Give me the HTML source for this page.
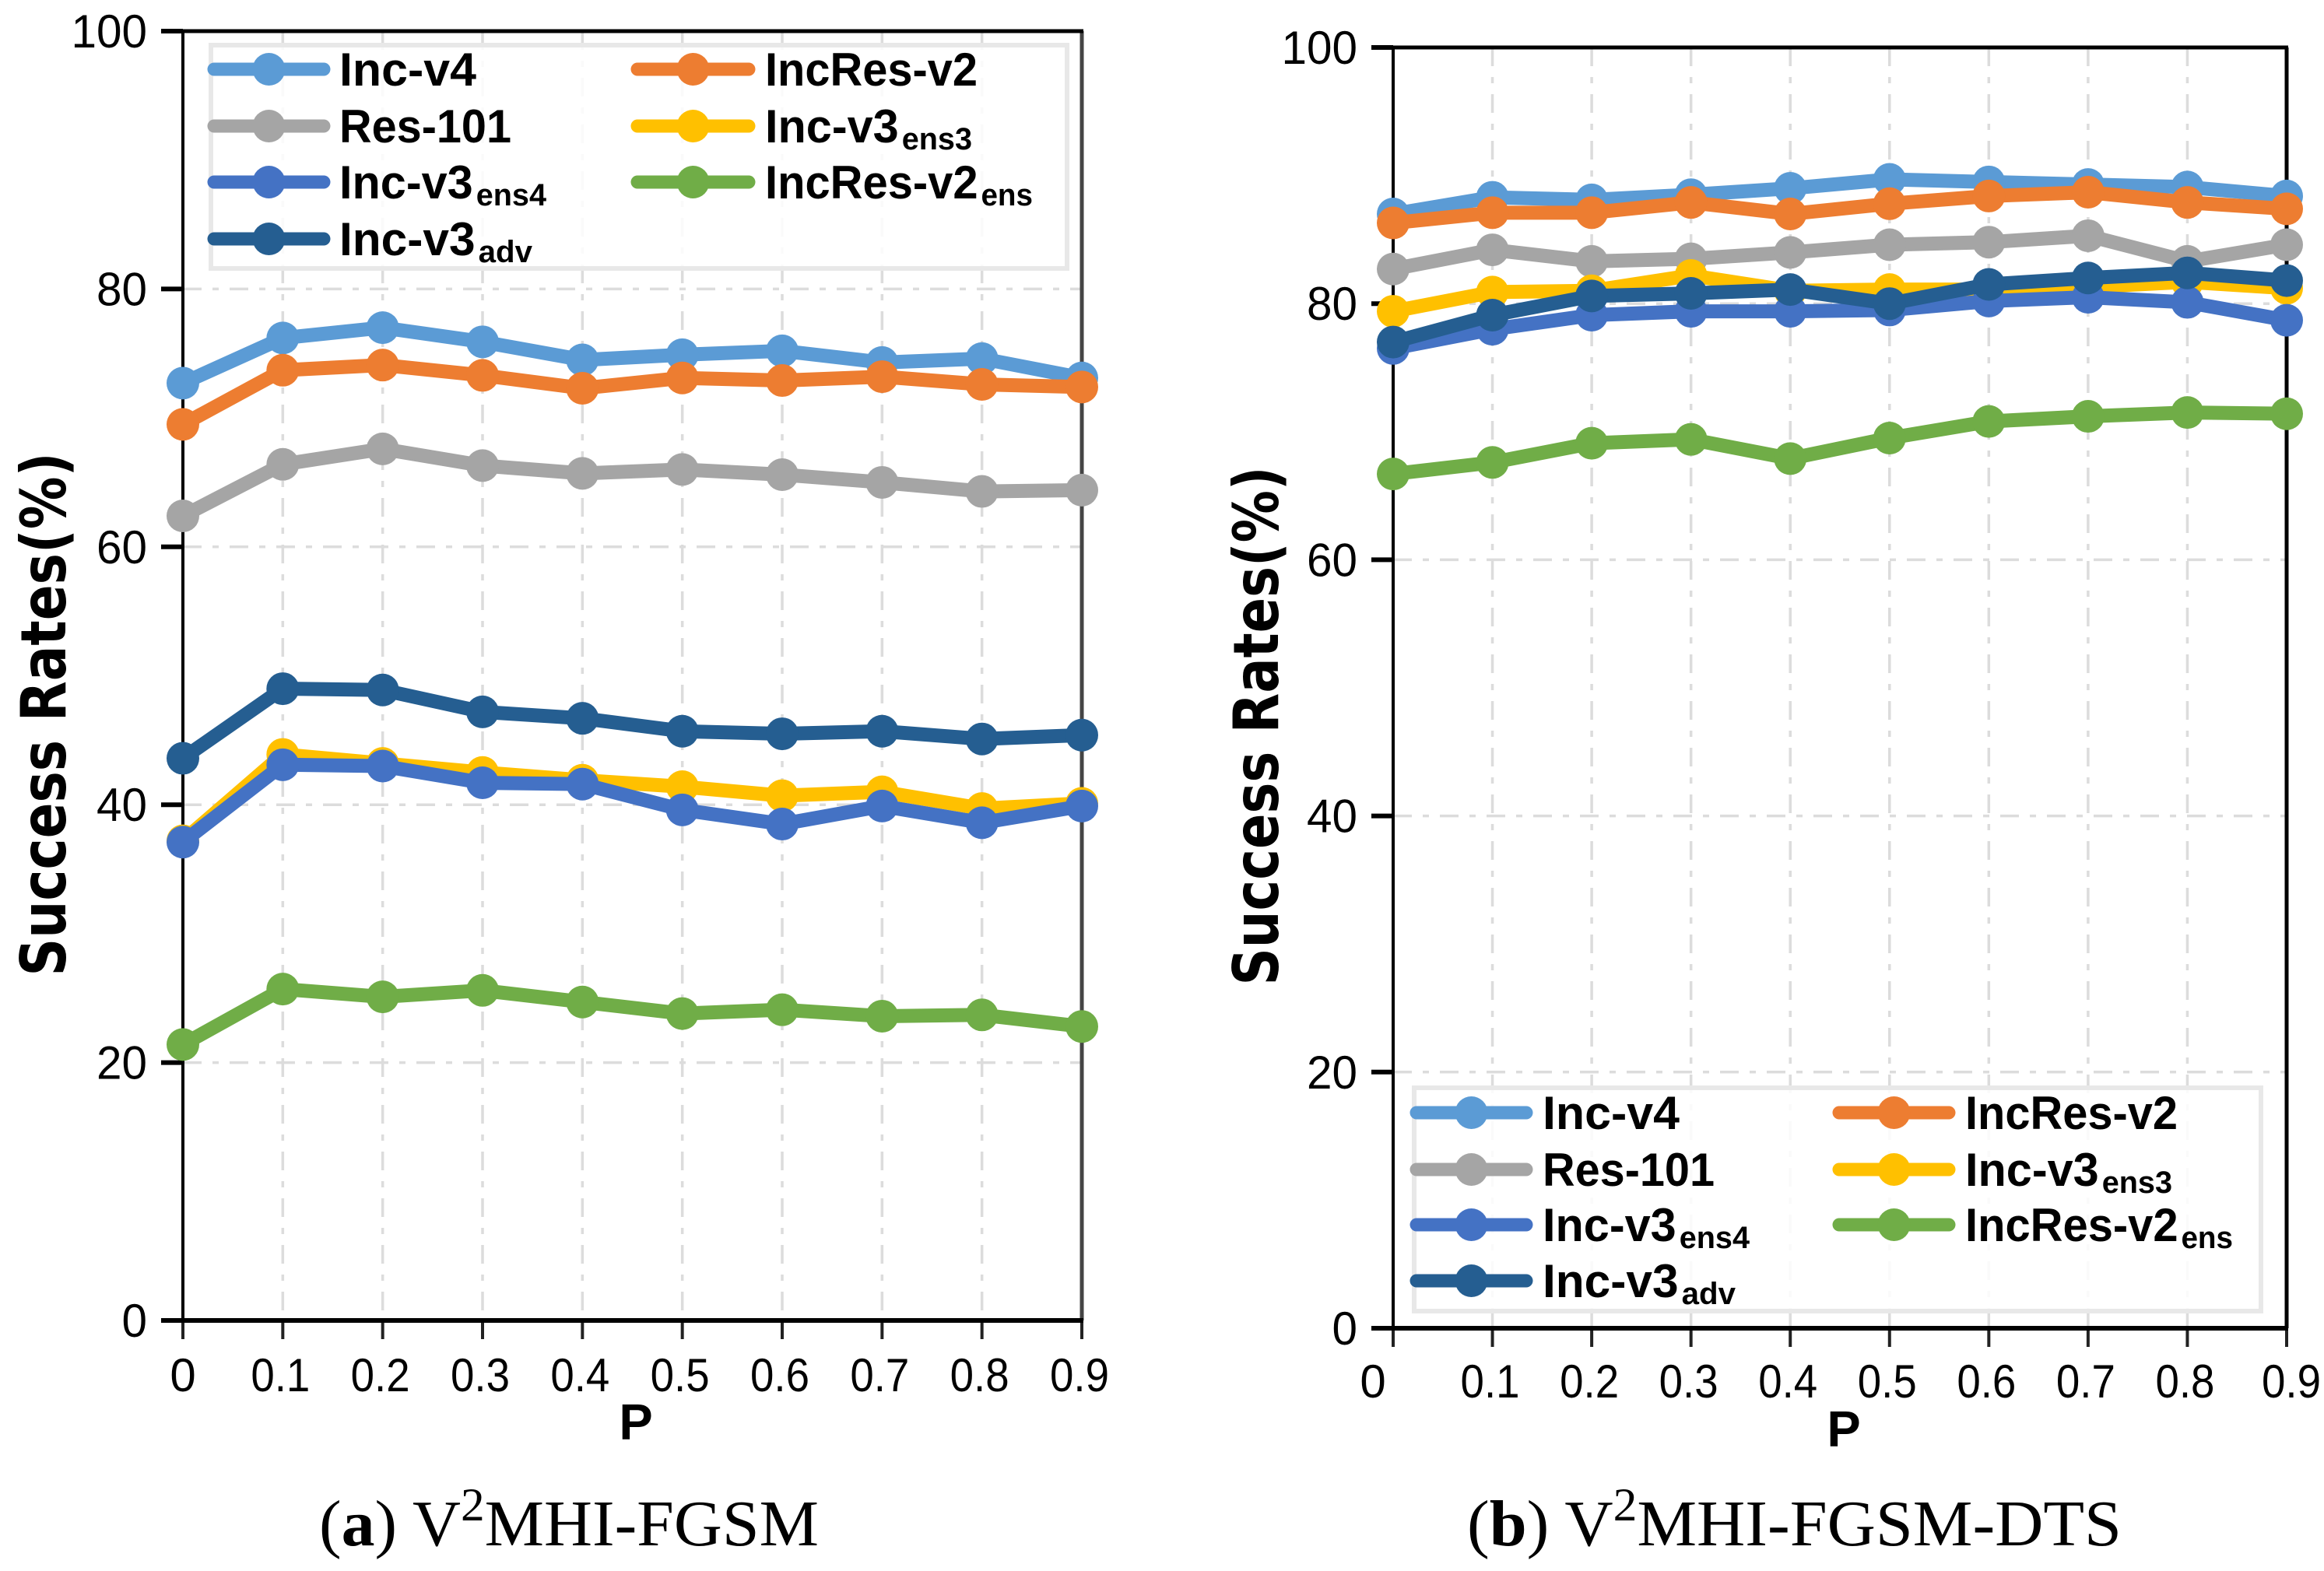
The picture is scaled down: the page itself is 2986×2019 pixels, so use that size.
<!DOCTYPE html>
<html lang="en">
<head>
<meta charset="utf-8">
<title>Success rates vs P</title>
<style>
html,body{margin:0;padding:0;background:#fff;width:2986px;height:2019px;overflow:hidden}
svg{display:block}
text{fill:#000;font-family:"Liberation Sans",sans-serif}
.cap{font-family:"Liberation Serif",serif;font-size:84px}
</style>
</head>
<body>
<svg id="figure" xmlns="http://www.w3.org/2000/svg" width="2986" height="2019" viewBox="0 0 2986 2019">
  <rect x="0" y="0" width="2986" height="2019" fill="#fff"/>
  <g id="panel-a"></g>
  <g id="panel-b"></g>
  <text class="cap" x="410" y="1986" textLength="642" lengthAdjust="spacingAndGlyphs">(<tspan font-weight="bold">a</tspan>) V<tspan font-size="60" dy="-32">2</tspan><tspan dy="32">MHI-FGSM</tspan></text>
  <text class="cap" x="1885" y="1986" textLength="841" lengthAdjust="spacingAndGlyphs">(<tspan font-weight="bold">b</tspan>) V<tspan font-size="60" dy="-32">2</tspan><tspan dy="32">MHI-FGSM-DTS</tspan></text>
</svg>
<script>
var categories = [0, 0.1, 0.2, 0.3, 0.4, 0.5, 0.6, 0.7, 0.8, 0.9];
var xTickLabels = ['0', '0.1', '0.2', '0.3', '0.4', '0.5', '0.6', '0.7', '0.8', '0.9'];
var yTicks = [0, 20, 40, 60, 80, 100];

var aIncV4 = [72.7, 76.2, 77.0, 75.9, 74.5, 74.9, 75.2, 74.3, 74.6, 73.1];
var aIncResV2 = [69.5, 73.7, 74.1, 73.3, 72.3, 73.1, 72.9, 73.2, 72.6, 72.4];
var aRes101 = [62.4, 66.4, 67.6, 66.3, 65.7, 66.0, 65.6, 65.0, 64.3, 64.4];
var aIncV3Ens3 = [37.2, 43.9, 43.2, 42.5, 41.9, 41.4, 40.7, 41.0, 39.7, 40.1];
var aIncV3Ens4 = [37.1, 43.1, 43.0, 41.7, 41.6, 39.6, 38.5, 39.9, 38.6, 39.9];
var aIncResV2Ens = [21.4, 25.7, 25.1, 25.6, 24.7, 23.8, 24.1, 23.6, 23.7, 22.8];
var aIncV3Adv = [43.6, 49.0, 48.9, 47.2, 46.7, 45.7, 45.5, 45.7, 45.1, 45.4];

var bIncV4 = [87.0, 88.3, 88.1, 88.5, 89.0, 89.7, 89.5, 89.3, 89.1, 88.4];
var bIncResV2 = [86.3, 87.1, 87.1, 87.9, 87.0, 87.8, 88.4, 88.7, 87.9, 87.4];
var bRes101 = [82.7, 84.2, 83.3, 83.5, 84.0, 84.6, 84.8, 85.3, 83.3, 84.6];
var bIncV3Ens3 = [79.4, 80.9, 81.0, 82.2, 81.0, 81.1, 81.1, 81.3, 81.7, 81.2];
var bIncV3Ens4 = [76.5, 78.0, 79.1, 79.4, 79.4, 79.5, 80.2, 80.5, 80.1, 78.7];
var bIncResV2Ens = [66.7, 67.6, 69.1, 69.4, 67.9, 69.5, 70.8, 71.2, 71.5, 71.4];
var bIncV3Adv = [77.0, 79.1, 80.6, 80.8, 81.1, 80.0, 81.5, 82.0, 82.4, 81.8];

var SVGNS = 'http://www.w3.org/2000/svg';
var COLORS = {v4:'#5B9BD5', res:'#A5A5A5', ens4:'#4472C4', adv:'#255E91', v2:'#ED7D31', ens3:'#FFC000', ens:'#70AD47'};

function mk(parent, tag, attrs) {
  var el = document.createElementNS(SVGNS, tag);
  for (var k in attrs) el.setAttribute(k, attrs[k]);
  parent.appendChild(el);
  return el;
}

function drawPanel(root, cfg, series) {
  function xScale(v) { return cfg.left + (v - categories[0]) / (categories[categories.length - 1] - categories[0]) * (cfg.right - cfg.left); }
  function yScale(v) { return cfg.bottom - v / 100 * (cfg.bottom - cfg.top); }

  // gridlines
  var grid = mk(root, 'g', {stroke:'#dcdcdc', 'stroke-width':3.5, 'stroke-dasharray':'24 14 8 14', fill:'none'});
  
  
  categories.forEach(function (c, i) {
    if (i === 0 || i === categories.length - 1) return;
    var v = mk(grid, 'line', {x1:xScale(c), x2:xScale(c), y1:cfg.top, y2:cfg.bottom});
    
    
  });
  yTicks.forEach(function (t) {
    if (t === 0 || t === 100) return;
    var h = mk(grid, 'line', {x1:cfg.left, x2:cfg.right, y1:yScale(t), y2:yScale(t)});
    
    
  });

  // y axis ticks and labels
  yTicks.forEach(function (t) {
    var y = yScale(t);
    var tick = mk(root, 'line', {x1:cfg.left - 28, x2:cfg.left, y1:y, y2:y, stroke:'#000', 'stroke-width':6});
    
    
    var lab = mk(root, 'text', {x:cfg.left - 46, y:y + 21, 'text-anchor':'end', 'font-size':60, textLength:String(t).length * 32.5, lengthAdjust:'spacingAndGlyphs'});
    
    
    lab.textContent = t;
  });

  // x axis ticks and labels
  categories.forEach(function (c, i) {
    var x = xScale(c);
    var tick = mk(root, 'line', {x1:x, x2:x, y1:cfg.bottom, y2:cfg.bottom + 24, stroke:'#222', 'stroke-width':4});
    
    
    var dx = (i === 0) ? cfg.zeroLabelShift : (i === categories.length - 1 ? cfg.lastLabelShift : -3);
    var attrs = {x:x + dx, y:cfg.xLabelY, 'text-anchor':'middle', 'font-size':60};
    if (i > 0) { attrs.textLength = 76; attrs.lengthAdjust = 'spacingAndGlyphs'; }
    var lab = mk(root, 'text', attrs);
    
    
    lab.textContent = xTickLabels[i];
  });

  // frame
  var axL = mk(root, 'line', {x1:cfg.left, x2:cfg.left, y1:cfg.top, y2:cfg.bottom, stroke:'#000', 'stroke-width':4});
  
  
  var axR = mk(root, 'line', {x1:cfg.right, x2:cfg.right, y1:cfg.top, y2:cfg.bottom, stroke:cfg.rightColor, 'stroke-width':5});
  
  
  var axT = mk(root, 'line', {x1:cfg.left - 28, x2:cfg.right + 2, y1:cfg.top, y2:cfg.top, stroke:'#000', 'stroke-width':5});
  
  
  var axB = mk(root, 'line', {x1:cfg.left - 28, x2:cfg.right + 2, y1:cfg.bottom, y2:cfg.bottom, stroke:'#000', 'stroke-width':6});
  
  

  // series
  series.forEach(function (s) {
    var g = mk(root, 'g', {});
    
    
    var pts = s.values.map(function (v, i) { return xScale(categories[i]) + ',' + yScale(v); }).join(' ');
    var line = mk(g, 'polyline', {points:pts, fill:'none', stroke:s.color, 'stroke-width':18, 'stroke-linejoin':'round', 'stroke-linecap':'round'});
    
    
    s.values.forEach(function (v, i) {
      var dot = mk(g, 'circle', {cx:xScale(categories[i]), cy:yScale(v), r:21, fill:s.color});
      
      
    });
  });

  // axis titles
  var yt = mk(root, 'text', {transform:'translate(' + cfg.yTitleX + ',' + cfg.yTitleY + ') rotate(-90)', 'text-anchor':'middle', 'font-size':80, 'font-weight':'bold', textLength:cfg.yTitleLen, lengthAdjust:'spacingAndGlyphs', style:'font-family:"DejaVu Sans",sans-serif'});
  
  
  yt.textContent = 'Success Rates(%)';
  var xt = mk(root, 'text', {x:cfg.xTitleX, y:cfg.xTitleY, 'text-anchor':'middle', 'font-size':65, 'font-weight':'bold'});
  
  
  xt.textContent = 'P';

  // legend
  var L = cfg.legend;
  var leg = mk(root, 'g', {});
  
  
  var box = mk(leg, 'rect', {x:L.x, y:L.y, width:L.w, height:L.h, fill:'#fff', 'fill-opacity':0.85, stroke:'#e8e8e8', 'stroke-width':6});
  
  
  series.forEach(function (s) {
    var col = L.cols[s.col], ry = L.rows[s.row];
    var e = mk(leg, 'g', {});
    
    
    var ln = mk(e, 'line', {x1:col.x1, x2:col.x2, y1:ry, y2:ry, stroke:s.color, 'stroke-width':17, 'stroke-linecap':'round'});
    
    
    var mkr = mk(e, 'circle', {cx:(col.x1 + col.x2) / 2, cy:ry, r:21, fill:s.color});
    
    
    var tx = mk(e, 'text', {x:col.tx, y:ry + 21, 'font-size':60, 'font-weight':'bold', textLength:s.len, lengthAdjust:'spacingAndGlyphs'});
    
    
    var base = document.createElementNS(SVGNS, 'tspan');
    base.textContent = s.name;
    tx.appendChild(base);
    if (s.sub) {
      var sub = document.createElementNS(SVGNS, 'tspan');
      sub.setAttribute('font-size', '40');
      sub.setAttribute('dy', '9');
      sub.setAttribute('dx', '4');
      sub.textContent = s.sub;
      tx.appendChild(sub);
    }
  });
}

function makeSeries(v4, v2, res, ens3, ens4, ens, adv) {
  return [
    {key:'inc-v4', name:'Inc-v4', sub:'', len:176, color:COLORS.v4, values:v4, col:0, row:0},
    {key:'incres-v2', name:'IncRes-v2', sub:'', len:273, color:COLORS.v2, values:v2, col:1, row:0},
    {key:'res-101', name:'Res-101', sub:'', len:221, color:COLORS.res, values:res, col:0, row:1},
    {key:'inc-v3-ens3', name:'Inc-v3', sub:'ens3', len:266, color:COLORS.ens3, values:ens3, col:1, row:1},
    {key:'inc-v3-ens4', name:'Inc-v3', sub:'ens4', len:266, color:COLORS.ens4, values:ens4, col:0, row:2},
    {key:'incres-v2-ens', name:'IncRes-v2', sub:'ens', len:344, color:COLORS.ens, values:ens, col:1, row:2},
    {key:'inc-v3-adv', name:'Inc-v3', sub:'adv', len:248, color:COLORS.adv, values:adv, col:0, row:3}
  ];
}

drawPanel(document.getElementById('panel-a'), {
  left:235, right:1390, top:40, bottom:1697, rightColor:'#444',
  xLabelY:1788, zeroLabelShift:0, lastLabelShift:-3,
  yTitleX:84, yTitleY:918, yTitleLen:673, xTitleX:817, xTitleY:1850,
  legend:{x:271, y:58, w:1100, h:287, rows:[89, 162, 234, 307],
    cols:[{x1:275, x2:416, tx:436}, {x1:819, x2:962, tx:983}]}
}, makeSeries(aIncV4, aIncResV2, aRes101, aIncV3Ens3, aIncV3Ens4, aIncResV2Ens, aIncV3Adv));

drawPanel(document.getElementById('panel-b'), {
  left:1790, right:2938, top:61, bottom:1707, rightColor:'#000',
  xLabelY:1796, zeroLabelShift:-26, lastLabelShift:6,
  yTitleX:1642, yTitleY:933, yTitleLen:667, xTitleX:2369, xTitleY:1859,
  legend:{x:1817, y:1398, w:1088, h:287, rows:[1430, 1503, 1574, 1646],
    cols:[{x1:1820, x2:1961, tx:1982}, {x1:2363, x2:2504, tx:2525}]}
}, makeSeries(bIncV4, bIncResV2, bRes101, bIncV3Ens3, bIncV3Ens4, bIncResV2Ens, bIncV3Adv));
</script>
</body>
</html>
